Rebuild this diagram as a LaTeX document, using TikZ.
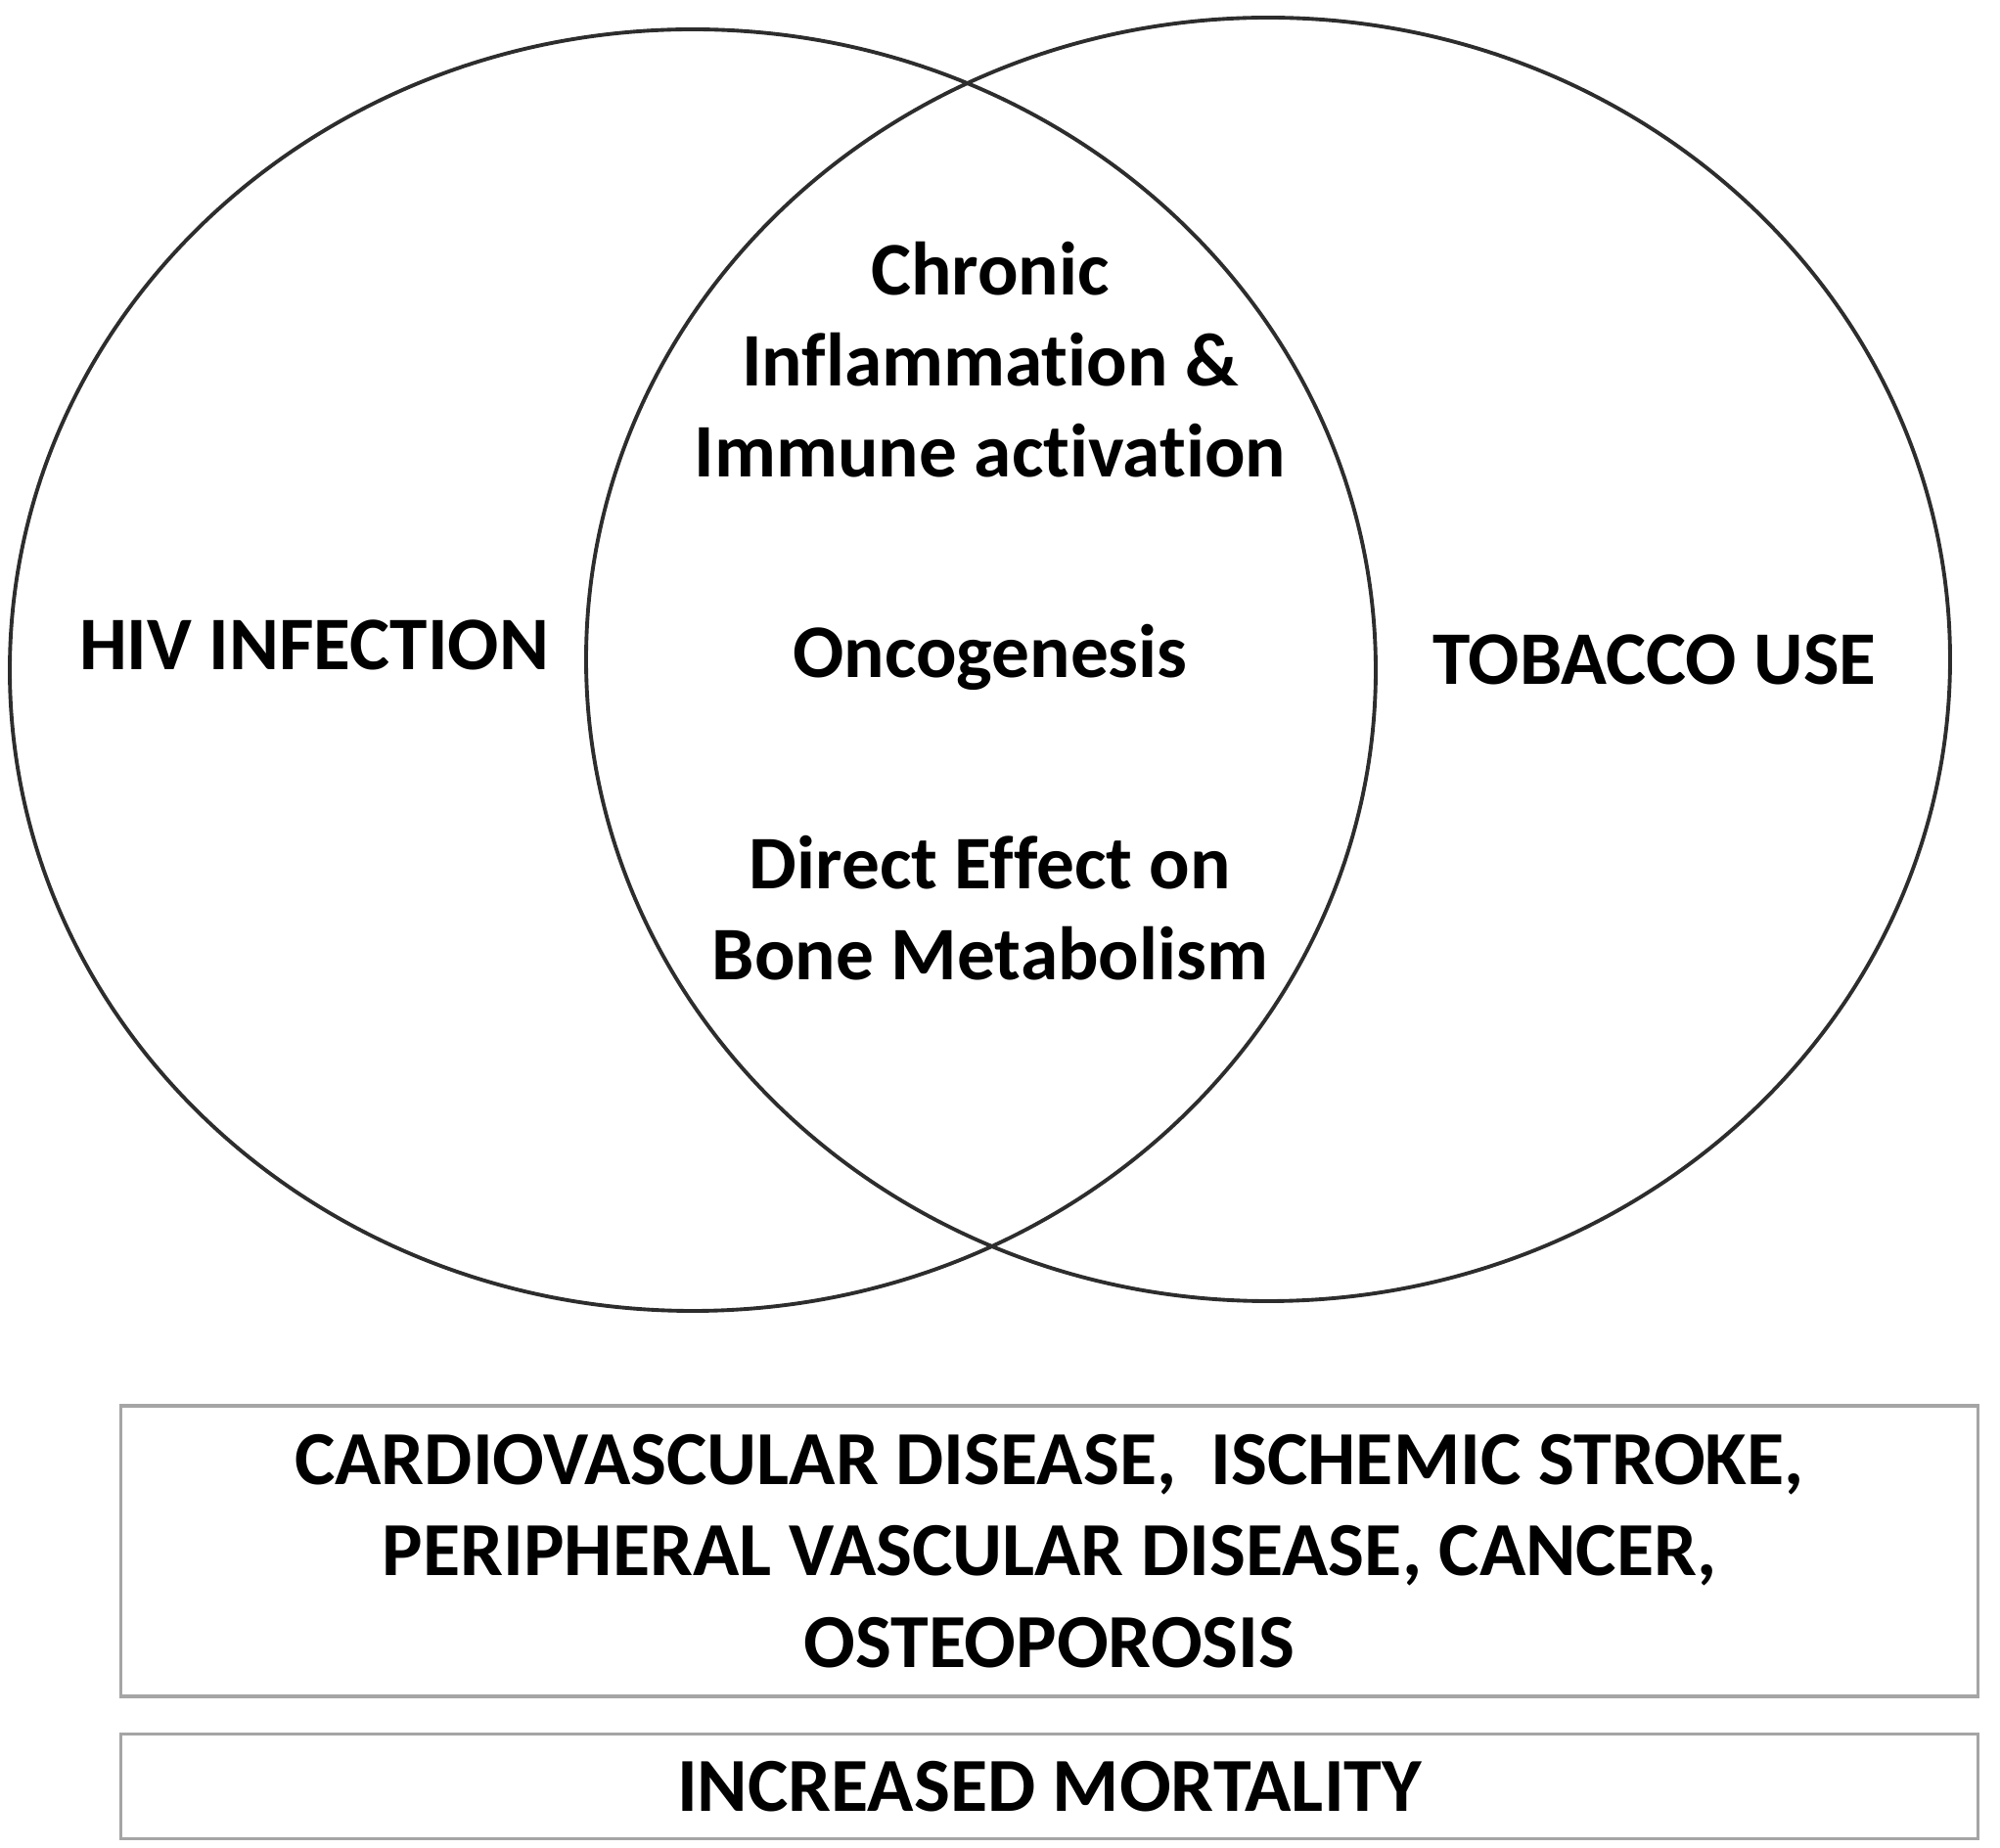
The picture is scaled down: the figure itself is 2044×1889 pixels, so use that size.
\documentclass[tikz,border=0pt]{standalone}
\usepackage{fontspec}
\setmainfont{Carlito}[Ligatures=NoCommon]
\usetikzlibrary{positioning}
\definecolor{rimcol}{RGB}{45,45,45}
\definecolor{boxcol}{RGB}{165,165,165}
\tikzset{
  venn/.style={draw=rimcol,line width=1.1pt},
  lbl/.style={font=\bfseries\fontsize{22}{26.5}\selectfont,align=center,
              anchor=base,inner sep=0pt},
  outbox/.style={draw=boxcol,line width=1pt,minimum width=18.97cm,
                 font=\bfseries\fontsize{22.2}{26.6}\selectfont,align=center,inner sep=0pt}
}
\begin{document}
\begin{tikzpicture}[x=0.01cm,y=-0.01cm]
  \useasboundingbox (0,0) rectangle (2044,1889);
  % the two sets
  \draw[venn](708,685) ellipse [x radius=698, y radius=655];
  \draw[venn](1296,674) ellipse [x radius=697, y radius=656];
  \node[lbl] (hiv) at (321,685) {HIV INFECTION};
  \node[lbl] (tob) at (1691,700) {TOBACCO USE};
  % shared mechanisms
  \node[lbl] (inflam) at (1012,488) {Chronic\\Inflammation \&\\Immune activation};
  \node[lbl] (onco) at (1012,693) {Oncogenesis};
  \node[lbl] (bone) at (1012,1002) {Direct Effect on\\Bone Metabolism};
  % outcomes
  \node[outbox,minimum height=2.97cm] (effects) at (1072.5,1585.5)
    {CARDIOVASCULAR DISEASE,~ ISCHEMIC STROKE,\\PERIPHERAL VASCULAR DISEASE, CANCER,\\OSTEOPOROSIS};
  \node[outbox,minimum height=1.07cm,below=0.35cm of effects] (mort) {INCREASED MORTALITY};
\end{tikzpicture}
\end{document}
